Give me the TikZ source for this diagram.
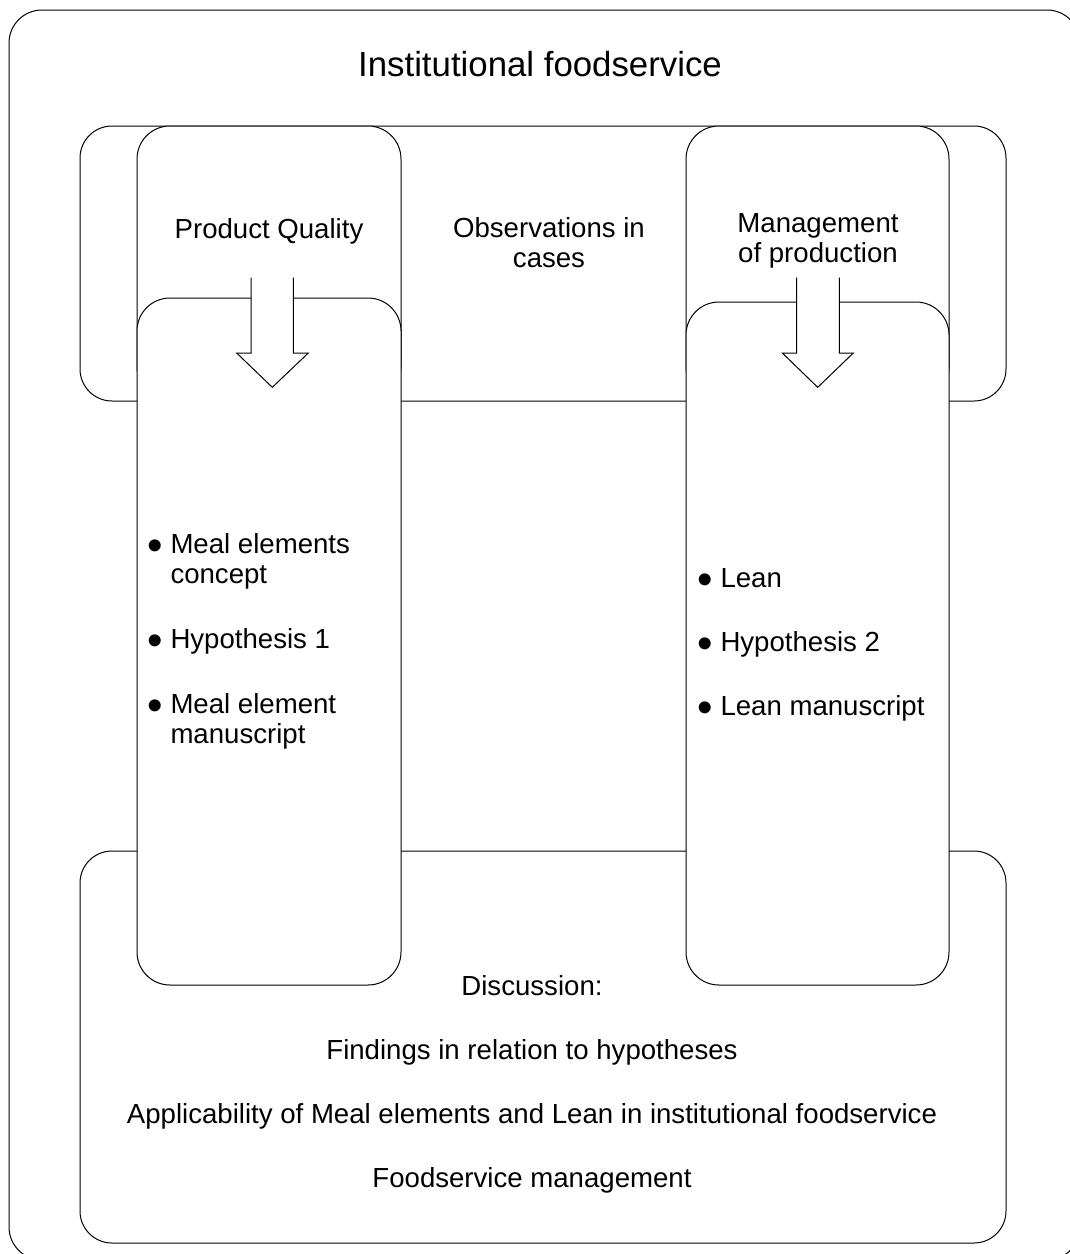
\documentclass[tikz,border=0pt]{standalone}
\usepackage{fontspec}
\setmainfont{Liberation Sans}
\usepackage{tikz}
\def\bul{\makebox[11.5pt][l]{\raisebox{-3.9pt}{\scalebox{1.6}{\textbullet}}}}
\def\ind{\hspace*{11.5pt}}

\begin{document}
\begin{tikzpicture}[x=0.5pt, y=-0.5pt, line width=0.5pt, font=\fontsize{13.8pt}{15pt}\selectfont]
		%%%%% START %%%%%
		\useasboundingbox (0, 0) rectangle (1070, 1254);
		
		\draw[rounded corners=16.5pt] (9, 10) rectangle (1080, 1260);
		\node[anchor=base] (title) at (540, 76) {\fontsize{17.4pt}{20pt}\selectfont Institutional foodservice};
		
		\draw[rounded corners=16pt] (80, 126) rectangle (1006, 401);
		\draw[rounded corners=16pt] (80, 851) rectangle (1006, 1243);
		
		\draw[fill=white, rounded corners=16.5pt] (137, 126) rectangle (401, 400);
		\draw[fill=white, rounded corners=16.5pt] (686, 126) rectangle (949, 400);
		
		\draw[fill=white, rounded corners=16.5pt] (137, 298) rectangle (401, 985);
		\draw[fill=white, rounded corners=16.5pt] (686, 302) rectangle (949, 985);
		
		\draw[fill=white] (251, 277.7) -- (251, 353) -- (236.7, 353) -- (272.3, 387.3) -- (308.3, 353) -- (293.3, 353) -- (293.3, 277.7);
		\draw[fill=white] (796.7, 277.7) -- (796.7, 353) -- (782.3, 353) -- (817.7, 387.3) -- (853.3, 353) -- (839.3, 353) -- (839.3, 277.7);
		
		% base of a node of several lines = its last line
		\node[anchor=base] (quality) at (269, 238) {Product Quality};
		\node[anchor=base, align=center] (cases) at (549, 267) {Observations in\\cases};
		\node[anchor=base, align=center] (production) at (818, 262) {Management\\of production};
		
		\node[anchor=base west, align=left, inner sep=0pt] (mealitems) at (147, 743) {\bul Meal elements\\\ind concept\\[17.5pt]\bul Hypothesis 1\\[17.5pt]\bul Meal element\\\ind manuscript};
		\node[anchor=base west, align=left, inner sep=0pt] (leanitems) at (697, 715) {\bul Lean\\[17pt]\bul Hypothesis 2\\[17pt]\bul Lean manuscript};
		
		\node[anchor=base, align=center] (discussion) at (532, 1187) {Discussion:\\[17pt]Findings in relation to hypotheses\\[17pt]Applicability of Meal elements and Lean in institutional foodservice\\[17pt]Foodservice management};
		
		%%%%% END %%%%%
	\end{tikzpicture}
\end{document}
